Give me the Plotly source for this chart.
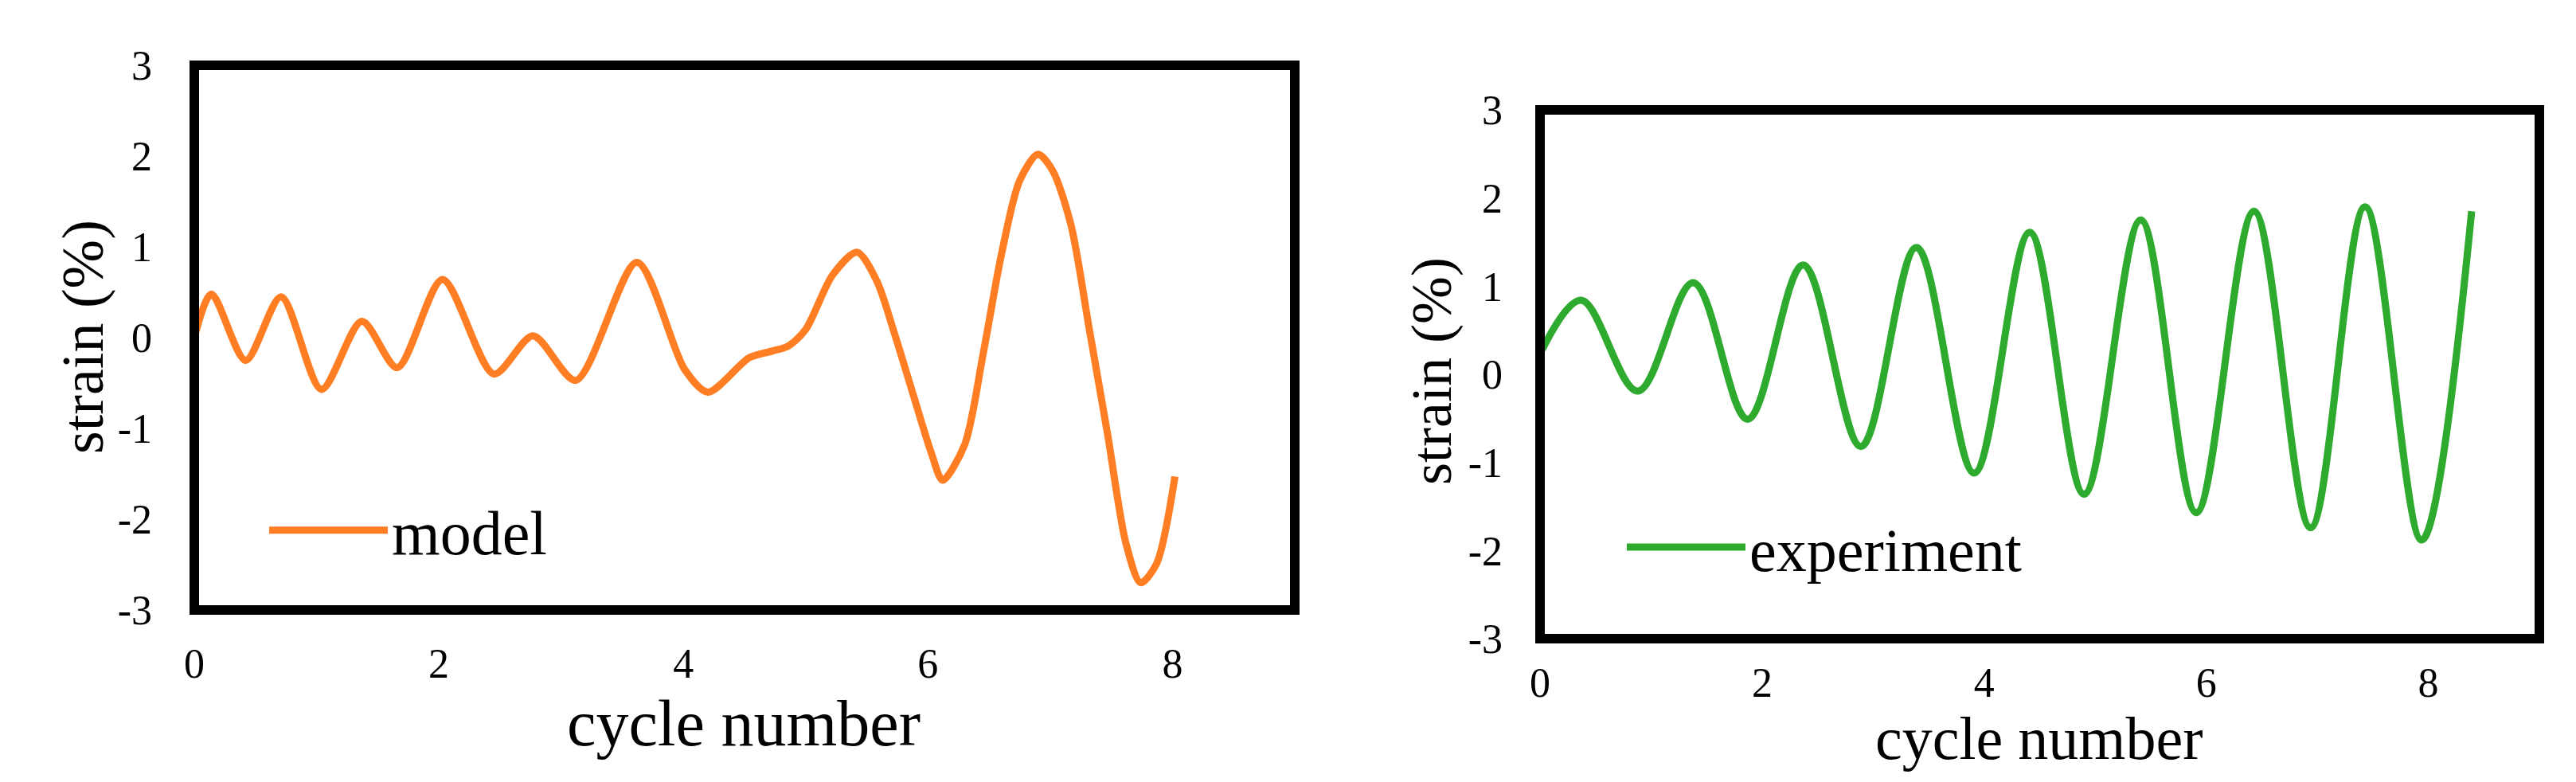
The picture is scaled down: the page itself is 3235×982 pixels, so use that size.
import plotly.graph_objects as go

# model curve (left panel)
model_cycle = [0.0, 0.14, 0.42, 0.71, 1.04, 1.37, 1.66, 2.03, 2.45, 2.77, 3.12,
               3.62, 4.01, 4.20, 4.54, 4.72, 4.86, 5.00, 5.22, 5.42, 5.58, 5.73,
               5.88, 6.03, 6.12, 6.30, 6.45, 6.60, 6.75, 6.90, 7.02, 7.17, 7.32,
               7.47, 7.62, 7.74, 7.87, 8.02]
model_strain = [0.0, 0.48, -0.25, 0.45, -0.57, 0.18, -0.33, 0.64, -0.40, 0.02, -0.47,
                0.83, -0.35, -0.60, -0.22, -0.15, -0.09, 0.09, 0.69, 0.94, 0.63, 0.03,
                -0.63, -1.28, -1.57, -1.18, -0.19, 0.91, 1.73, 2.02, 1.84, 1.24, 0.09,
                -1.07, -2.27, -2.70, -2.49, -1.53]

# experiment curve (right panel)
exp_cycle = [0.02, 0.37, 0.88, 1.38, 1.87, 2.37, 2.89, 3.39, 3.91, 4.41, 4.90,
             5.41, 5.91, 6.43, 6.94, 7.43, 7.94, 8.39]
exp_strain = [0.28, 0.84, -0.19, 1.04, -0.51, 1.24, -0.82, 1.44, -1.12, 1.61, -1.36,
              1.75, -1.57, 1.85, -1.74, 1.90, -1.88, 1.85]

x_ticks = [0, 2, 4, 6, 8]
y_ticks = [-3, -2, -1, 0, 1, 2, 3]
y_labels = ["-3", "-2", "-1", "0", "1", "2", "3"]

W, H = 3235, 982
SERIF = "Liberation Serif, Times New Roman, serif"
ORANGE = "#ff7d23"
GREEN = "#2eaa2e"

fig = go.Figure()
fig.add_trace(go.Scatter(x=model_cycle, y=model_strain, mode="lines", name="model",
                         line=dict(color=ORANGE, width=9, shape="spline", smoothing=0.8),
                         xaxis="x", yaxis="y", legend="legend", showlegend=True))
fig.add_trace(go.Scatter(x=exp_cycle, y=exp_strain, mode="lines", name="experiment",
                         line=dict(color=GREEN, width=9, shape="spline", smoothing=1.0),
                         xaxis="x2", yaxis="y2", legend="legend2", showlegend=True))


def px_x(p):
    return p / W


def px_y(p):
    return 1 - p / H


def xaxis(domain, anchor, standoff):
    return dict(domain=domain, anchor=anchor, range=[0, 9], tickvals=x_ticks,
                showgrid=False, zeroline=False, showline=False, ticks="",
                ticklabelstandoff=standoff, automargin=False,
                tickfont=dict(family=SERIF, size=52, color="black"))


def yaxis(domain, anchor, standoff):
    return dict(domain=domain, anchor=anchor, range=[-3, 3], tickvals=y_ticks,
                ticktext=y_labels,
                showgrid=False, zeroline=False, showline=False, ticks="",
                ticklabelstandoff=standoff, automargin=False,
                tickfont=dict(family=SERIF, size=52, color="black"))


left_x = [px_x(236), px_x(1618)]
left_y = [px_y(758), px_y(74)]
right_x = [px_x(1926), px_x(3181)]
right_y = [px_y(794), px_y(130)]

fig.update_layout(
    width=W, height=H,
    margin=dict(l=0, r=0, t=0, b=0),
    paper_bgcolor="white", plot_bgcolor="white",
    showlegend=True,
    xaxis=xaxis(left_x, "y", 32),
    yaxis=yaxis(left_y, "x", 52),
    xaxis2=xaxis(right_x, "y2", 20),
    yaxis2=yaxis(right_y, "x2", 46),
    legend=dict(x=px_x(325), y=px_y(658), xanchor="left", yanchor="middle",
                itemwidth=149, bgcolor="rgba(0,0,0,0)",
                font=dict(family=SERIF, size=78, color="black")),
    legend2=dict(x=px_x(2030), y=px_y(679), xanchor="left", yanchor="middle",
                 itemwidth=149, bgcolor="rgba(0,0,0,0)",
                 font=dict(family=SERIF, size=76, color="black")),
)

# axis titles
titles = [
    ("cycle number", px_x(926), px_y(900), 0, 82),
    ("cycle number", px_x(2552), px_y(919), 0, 76),
    ("strain (%)", px_x(96), px_y(415), -90, 74),
    ("strain (%)", px_x(1790), px_y(458), -90, 72),
]
for text, ax, ay, angle, size in titles:
    fig.add_annotation(text=text, x=ax, y=ay, xref="paper", yref="paper",
                       xanchor="center", yanchor="middle", textangle=angle,
                       showarrow=False, font=dict(family=SERIF, size=size, color="black"))

# black frame round each plot area
for xr, yr in [("x domain", "y domain"), ("x2 domain", "y2 domain")]:
    fig.add_shape(type="rect", xref=xr, yref=yr, x0=0, x1=1, y0=0, y1=1,
                  line=dict(color="black", width=12), layer="above")

fig.write_html("out.html")
